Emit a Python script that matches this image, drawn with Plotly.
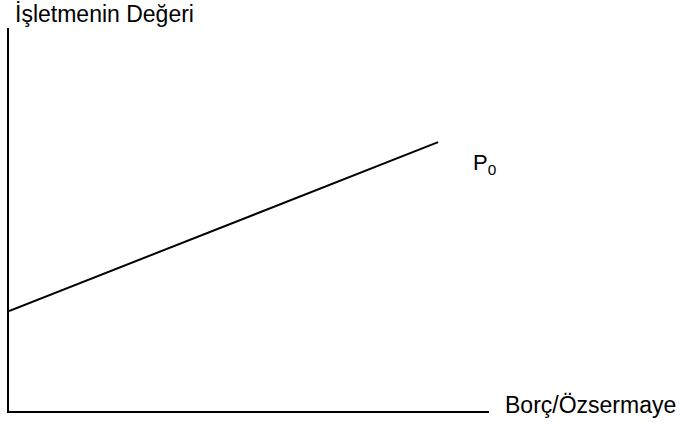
import plotly.graph_objects as go

# Debt/equity ratio vs. firm value (schematic, unitless)
debt_equity = [0.0, 0.894]
firm_value = [0.261, 0.702]

curve_label = "P<sub>0</sub>"
x_title = "Borç/Özsermaye"
y_title = "İşletmenin Değeri"

FONT = "Liberation Sans, Arial, sans-serif"

fig = go.Figure()
fig.add_trace(go.Scatter(
    x=debt_equity, y=firm_value, mode="lines",
    line=dict(color="black", width=2), hoverinfo="skip", showlegend=False,
))

fig.update_layout(
    width=683, height=425,
    margin=dict(l=9, r=194, t=28, b=14),
    plot_bgcolor="white", paper_bgcolor="white",
    xaxis=dict(range=[0, 1], showgrid=False, zeroline=False, showticklabels=False,
               ticks="", showline=True, linecolor="black", linewidth=2),
    yaxis=dict(range=[0, 1], showgrid=False, zeroline=False, showticklabels=False,
               ticks="", showline=True, linecolor="black", linewidth=2),
    font=dict(family=FONT, size=23, color="black"),
    annotations=[
        dict(text=y_title, x=0.0083, y=1.037, xref="paper", yref="paper",
             xanchor="left", yanchor="middle", showarrow=False),
        dict(text=x_title, x=1.029, y=0.016, xref="paper", yref="paper",
             xanchor="left", yanchor="middle", showarrow=False),
        dict(text=curve_label, x=0.963, y=0.645, xref="paper", yref="paper",
             xanchor="left", yanchor="middle", showarrow=False,
             font=dict(size=22)),
    ],
)

fig.write_html("out.html")
